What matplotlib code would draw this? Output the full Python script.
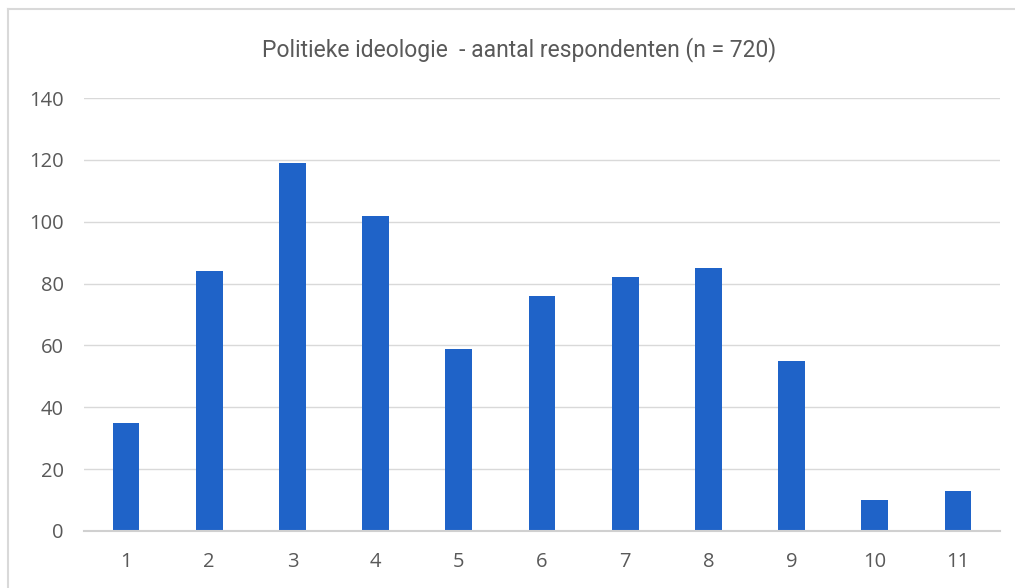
import matplotlib
matplotlib.use("Agg")
import matplotlib.pyplot as plt
from matplotlib.lines import Line2D

categories = ["1", "2", "3", "4", "5", "6", "7", "8", "9", "10", "11"]
counts = [35, 84, 119, 102, 59, 76, 82, 85, 55, 10, 13]
yticks = [0, 20, 40, 60, 80, 100, 120, 140]
title = "Politieke ideologie  - aantal respondenten (n = 720)"

W, H = 1015, 588
fig = plt.figure(figsize=(W / 100, H / 100), dpi=100)

# chart frame (only top and left edge fall inside the picture)
fig.add_artist(Line2D([8 / W, 8 / W], [0, 1 - 9 / H], color="#D9D9D9", lw=1.5,
                      transform=fig.transFigure))
fig.add_artist(Line2D([8 / W, 1], [1 - 9 / H, 1 - 9 / H], color="#D9D9D9", lw=1.5,
                      transform=fig.transFigure))

ax = fig.add_axes([84.4 / W, 1 - 531 / H, 915.2 / W, 433 / H])
x = range(len(categories))
ax.bar(x, counts, width=0.32, color="#1F63C8", zorder=3)
ax.set_xlim(-0.5, len(categories) - 0.5)
ax.set_ylim(0, 140)
ax.set_yticks(yticks)
ax.set_xticks(list(x))
ax.set_xticklabels(categories)
ax.yaxis.grid(True, color="#D9D9D9", lw=1, zorder=0)
for s in ["top", "right", "left"]:
    ax.spines[s].set_visible(False)
ax.spines["bottom"].set_color("#D0D0D0")
ax.spines["bottom"].set_linewidth(1.5)
ax.spines["bottom"].set_zorder(4)
ax.tick_params(axis="both", length=0, labelsize=14.5, labelcolor="#595959")
ax.tick_params(axis="y", pad=15)
ax.tick_params(axis="x", pad=15)
for lab in ax.get_xticklabels() + ax.get_yticklabels():
    lab.set_family(["Open Sans", "DejaVu Sans"])

fig.text(519 / W, 1 - 50 / H, title, ha="center", va="center", fontsize=16.5,
         color="#595959", family=["Roboto", "DejaVu Sans"])

fig.savefig("out.png", dpi=100)
